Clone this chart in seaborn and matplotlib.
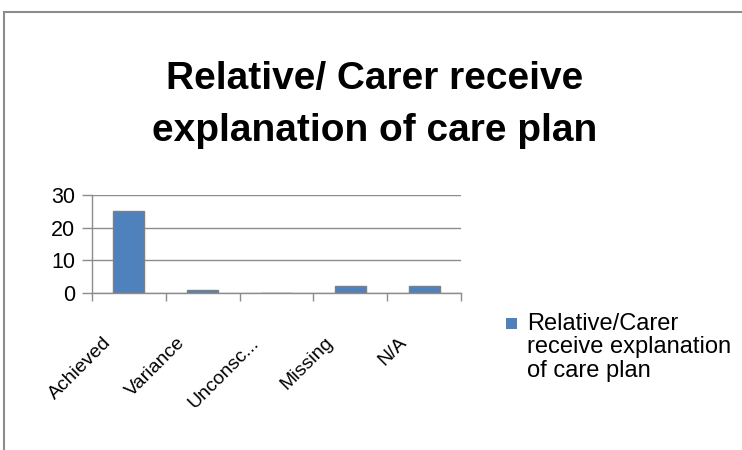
import matplotlib
matplotlib.use("Agg")
import matplotlib.pyplot as plt
import seaborn as sns
import pandas as pd
import numpy as np
from matplotlib.patches import Rectangle
from matplotlib.transforms import ScaledTranslation

categories = ["Achieved", "Variance", "Unconsc...", "Missing", "N/A"]
values = [25, 1, 0, 2, 2]
yticks = [0, 10, 20, 30]
series_lines = ["Relative/Carer", "receive explanation", "of care plan"]
title_lines = ["Relative/ Carer receive", "explanation of care plan"]

sns.set_theme(style="white")
plt.rcParams['font.family'] = ['Liberation Sans', 'DejaVu Sans']
plt.rcParams['text.color'] = 'black'
plt.rcParams['xtick.color'] = 'black'
plt.rcParams['ytick.color'] = 'black'

W, H = 742, 450
fig = plt.figure(figsize=(W / 100, H / 100), dpi=100)
ax = fig.add_axes([92 / W, 1 - 293 / H, (461 - 92) / W, (293 - 195) / H])

df = pd.DataFrame({"cat": categories, "val": values})
sns.barplot(data=df, x="cat", y="val", ax=ax, color="#4F81BD", width=0.42,
            edgecolor="#7F7F7F", linewidth=1.0, saturation=1)

ax.set_xlim(-0.5, len(categories) - 0.5)
ax.set_ylim(0, 30)
ax.set_yticks(yticks)
ax.set_yticklabels([str(t) for t in yticks], fontsize=15.5)
ax.yaxis.grid(True, color="#8C8C8C", linewidth=1.0)
ax.set_axisbelow(True)
ax.set_xlabel("")
ax.set_ylabel("")

for s in ["top", "right"]:
    ax.spines[s].set_visible(False)
for s in ["left", "bottom"]:
    ax.spines[s].set_color("#8C8C8C")
    ax.spines[s].set_linewidth(1.0)

ax.tick_params(axis="y", which="major", length=7, width=1.0, color="#8C8C8C",
               labelcolor="black", left=True, pad=5)
ax.set_xticks(np.arange(len(categories)))
ax.set_xticklabels(categories, rotation=45, ha="right", va="center",
                   rotation_mode="anchor", fontsize=14)
ax.tick_params(axis="x", which="major", length=0, pad=34, labelcolor="black")
ax.set_xticks(np.arange(-0.5, len(categories)), minor=True)
ax.tick_params(axis="x", which="minor", length=6, width=1.0, color="#8C8C8C", bottom=True)
shift = ScaledTranslation(-20 / 100, 0, fig.dpi_scale_trans)
for lab in ax.get_xticklabels():
    lab.set_transform(lab.get_transform() + shift)

fig.text(375 / W, 1 - 89 / H, title_lines[0], ha="center", va="baseline", fontsize=28,
         fontweight="bold")
fig.text(375 / W, 1 - 141 / H, title_lines[1], ha="center", va="baseline", fontsize=28,
         fontweight="bold")

# legend
fig.patches.append(Rectangle((506 / W, 1 - 329 / H), 11 / W, 11 / H, transform=fig.transFigure,
                             facecolor="#4F81BD", edgecolor="none"))
for i, line in enumerate(series_lines):
    fig.text(527 / W, 1 - (330 + 23.5 * i) / H, line, ha="left", va="baseline", fontsize=17)

# chart border
fig.patches.append(Rectangle((4 / W, -0.1), 1.2, 1 - 12 / H + 0.1, transform=fig.transFigure,
                             facecolor="none", edgecolor="#8C8C8C", linewidth=1.5))

fig.savefig("out.png", dpi=100)
